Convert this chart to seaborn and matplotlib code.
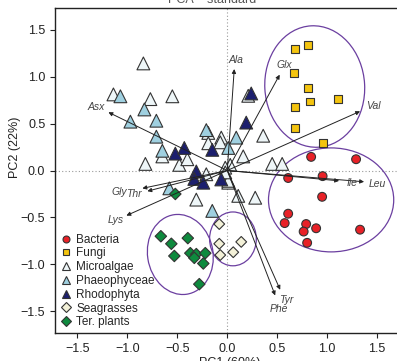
import numpy as np
import pandas as pd
import matplotlib
matplotlib.use("Agg")
import matplotlib.pyplot as plt
from matplotlib.patches import Ellipse
from matplotlib.lines import Line2D
import seaborn as sns

# ---------------- data ----------------
groups = ["Bacteria", "Fungi", "Microalgae", "Phaeophyceae", "Rhodophyta", "Seagrasses", "Ter. plants"]

bact_x = [0.84, 1.29, 0.61, 0.955, 0.95, 0.61, 0.575, 0.79, 0.89, 0.765, 0.80, 1.33]
bact_y = [0.145, 0.12, -0.08, -0.06, -0.28, -0.46, -0.56, -0.57, -0.615, -0.65, -0.77, -0.63]

fungi_x = [0.675, 0.81, 0.665, 0.81, 0.825, 0.675, 1.11, 0.675, 0.955]
fungi_y = [1.29, 1.34, 1.04, 0.88, 0.735, 0.68, 0.76, 0.45, 0.29]

micro_x = [-0.84, -1.14, -0.77, -0.55, -0.65, -0.82, -0.48, -0.40, -0.19, -0.19, -0.06, 0.03,
           -0.02, 0.21, 0.36, 0.16, 0.45, 0.55, 0.11, 0.28, 0.01, -0.21, 0.01, -0.02, -0.31, -0.07]
micro_y = [1.14, 0.81, 0.76, 0.79, 0.15, 0.07, 0.06, 0.12, 0.40, 0.29, 0.35, 0.06,
           0.03, 0.795, 0.37, 0.15, 0.07, 0.07, -0.27, -0.29, -0.13, -0.04, -0.11, -0.02, -0.31, 0.30]

phaeo_x = [-1.07, -0.83, -0.97, -0.71, -0.71, -0.65, -0.21, 0.01, 0.09, -0.58, -0.15]
phaeo_y = [0.79, 0.65, 0.52, 0.53, 0.36, 0.21, 0.43, 0.24, 0.35, -0.19, -0.43]

rhodo_x = [-0.52, -0.43, -0.15, 0.24, 0.19, -0.31, -0.33, -0.24, -0.06]
rhodo_y = [0.18, 0.24, 0.22, 0.82, 0.51, -0.01, -0.09, -0.13, -0.095]

seag_x = [-0.08, -0.08, -0.07, 0.06, 0.14]
seag_y = [-0.57, -0.78, -0.90, -0.87, -0.76]

terp_x = [-0.52, -0.665, -0.56, -0.395, -0.53, -0.37, -0.31, -0.33, -0.22, -0.24, -0.28]
terp_y = [-0.25, -0.70, -0.78, -0.72, -0.91, -0.88, -0.89, -0.93, -0.88, -0.99, -1.21]

# loadings (arrow tips) and label anchors
load_names = ["Ala", "Glx", "Val", "Ile", "Leu", "Tyr", "Phe", "Asx", "Gly", "Thr", "Lys"]
load_x = [0.07, 0.525, 1.33, 1.12, 1.37, 0.53, 0.48, -1.19, -0.85, -0.80, -1.01]
load_y = [1.08, 1.02, 0.63, -0.11, -0.12, -1.27, -1.33, 0.62, -0.19, -0.22, -0.48]
lab_x = [0.09, 0.575, 1.46, 1.25, 1.50, 0.59, 0.52, -1.31, -1.08, -0.94, -1.12]
lab_y = [1.18, 1.12, 0.69, -0.13, -0.14, -1.38, -1.47, 0.68, -0.23, -0.25, -0.53]

# group ellipses (centre, width, height, angle)
ell_cx = [0.876, 1.04, -0.47, 0.057]
ell_cy = [0.894, -0.313, -0.894, -0.728]
ell_w = [1.00, 1.254, 0.656, 0.468]
ell_h = [1.294, 1.107, 0.856, 0.573]
ell_a = [3, 0, 8, 0]

# ---------------- styles ----------------
palette = {"Bacteria": "#e82127", "Fungi": "#f4c40f", "Microalgae": "#eef6f8",
           "Phaeophyceae": "#9fd0e0", "Rhodophyta": "#1c1f6e", "Seagrasses": "#f3f1d8",
           "Ter. plants": "#0e8a3e"}
markers = {"Bacteria": "o", "Fungi": "s", "Microalgae": "^", "Phaeophyceae": "^",
           "Rhodophyta": "^", "Seagrasses": "D", "Ter. plants": "D"}
sizes = {"Bacteria": 40, "Fungi": 32, "Microalgae": 85, "Phaeophyceae": 85,
         "Rhodophyta": 85, "Seagrasses": 30, "Ter. plants": 34}

xs = [bact_x, fungi_x, micro_x, phaeo_x, rhodo_x, seag_x, terp_x]
ys = [bact_y, fungi_y, micro_y, phaeo_y, rhodo_y, seag_y, terp_y]
df = pd.concat([pd.DataFrame({"PC1": x, "PC2": y, "group": g}) for g, x, y in zip(groups, xs, ys)],
               ignore_index=True)

sns.set_style("ticks")
plt.rcParams["font.family"] = ["Liberation Sans", "DejaVu Sans"]

fig = plt.figure(figsize=(3.97, 3.61), dpi=100)
ax = fig.add_axes([55 / 397, 28 / 361, 352 / 397, 325 / 361])

ax.axhline(0, color="#9a9a9a", lw=0.8, ls=(0, (1, 2)), zorder=0)
ax.axvline(0, color="#9a9a9a", lw=0.8, ls=(0, (1, 2)), zorder=0)

for cx, cy, w, h, a in zip(ell_cx, ell_cy, ell_w, ell_h, ell_a):
    ax.add_patch(Ellipse((cx, cy), w, h, angle=a, fill=False, ec="#6b3fa0", lw=0.9, zorder=1))

sns.scatterplot(data=df, x="PC1", y="PC2", hue="group", style="group", size="group",
                palette=palette, markers=markers, sizes=sizes, edgecolor="#333333",
                linewidth=0.8, legend=False, ax=ax, zorder=2)

for n, tx, ty, lx, ly in zip(load_names, load_x, load_y, lab_x, lab_y):
    ax.annotate("", xy=(tx, ty), xytext=(0, 0),
                arrowprops=dict(arrowstyle="-|>", color="#222222", lw=0.7,
                                mutation_scale=6, shrinkA=0, shrinkB=0), zorder=3)
    ax.text(lx, ly, n, fontsize=7.5, style="italic", color="#444444",
            ha="center", va="center", zorder=4)

ax.set_xlim(-1.725, 1.80)
ax.set_ylim(-1.73, 1.73)
ax.set_xticks([-1.5, -1.0, -0.5, 0.0, 0.5, 1.0, 1.5])
ax.set_yticks([-1.5, -1.0, -0.5, 0.0, 0.5, 1.0, 1.5])
ax.tick_params(labelsize=9, length=3.5, width=0.8, colors="#222222")
for s in ax.spines.values():
    s.set_linewidth(1.0)
    s.set_color("#222222")
ax.set_xlabel("")
ax.set_ylabel("PC2 (22%)", fontsize=9, color="#222222")
ax.yaxis.set_label_coords(-0.097, 0.57)

fig.text(230 / 397, 0.012, "PC1 (60%)", fontsize=9, ha="center", va="top", color="#222222")
fig.text(212 / 397, 0.993, "PCA \u2013 standard", fontsize=9, ha="center", va="baseline", color="#555555")

handles = [Line2D([0], [0], marker=markers[g], color="none", markerfacecolor=palette[g],
                  markeredgecolor="#333333", markeredgewidth=0.8,
                  markersize=6 if markers[g] in ("^",) else 5) for g in groups]
ax.legend(handles, groups, loc="lower left", bbox_to_anchor=(0.0, 0.0), frameon=False,
          fontsize=8.5, handlelength=1.0, handletextpad=0.4, labelspacing=0.15,
          borderpad=0.2, borderaxespad=0.2)

fig.savefig("out.png", dpi=100)
